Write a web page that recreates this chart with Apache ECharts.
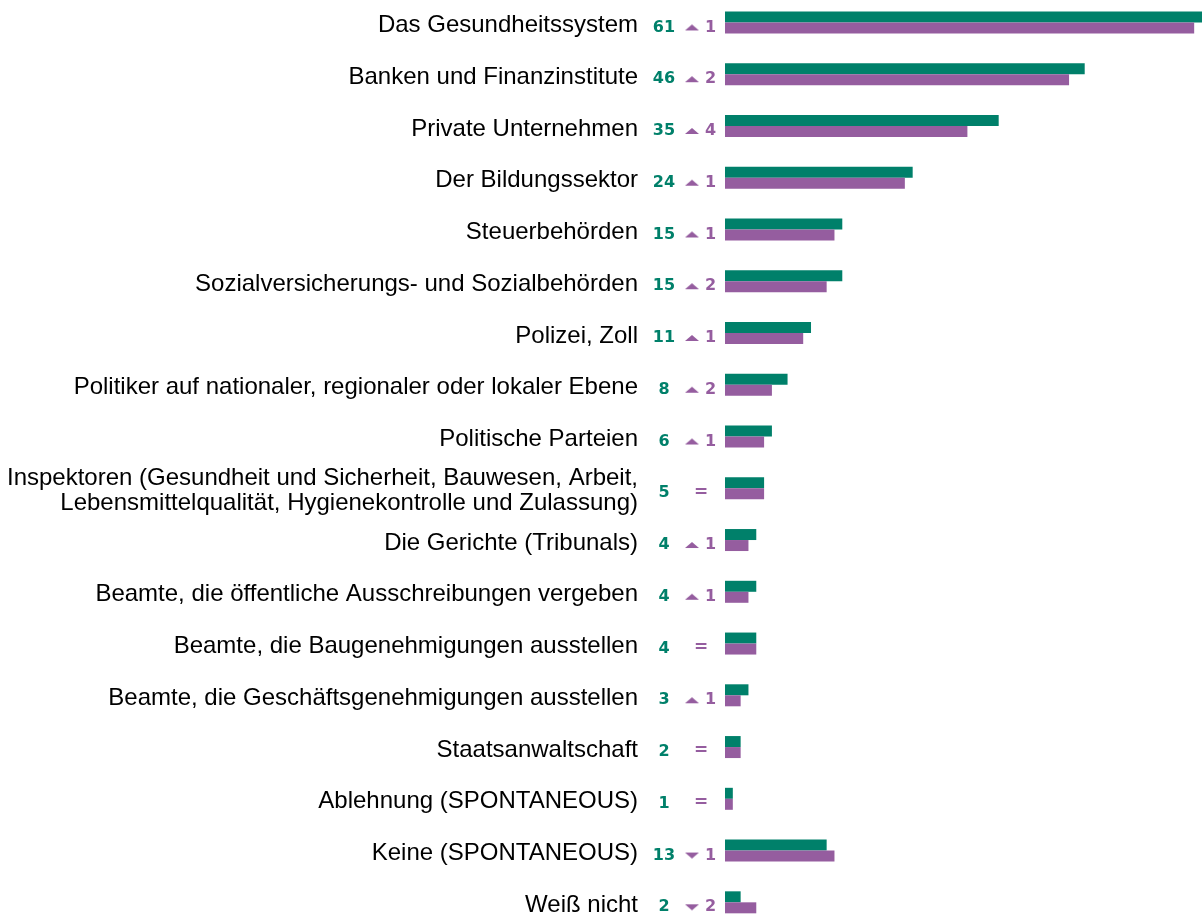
<!DOCTYPE html>
<html>
<head>
<meta charset="utf-8">
<script src="https://cdn.jsdelivr.net/npm/echarts@6/dist/echarts.min.js"></script>
<style>
  html, body { margin: 0; padding: 0; background: #fff; }
  #chart { width: 1202px; height: 918px; }
</style>
</head>
<body>
<div id="chart"></div>
<script>
// Categories, top to bottom
const categories = [
  'Das Gesundheitssystem',
  'Banken und Finanzinstitute',
  'Private Unternehmen',
  'Der Bildungssektor',
  'Steuerbehörden',
  'Sozialversicherungs- und Sozialbehörden',
  'Polizei, Zoll',
  'Politiker auf nationaler, regionaler oder lokaler Ebene',
  'Politische Parteien',
  'Inspektoren (Gesundheit und Sicherheit, Bauwesen, Arbeit,\nLebensmittelqualität, Hygienekontrolle und Zulassung)',
  'Die Gerichte (Tribunals)',
  'Beamte, die öffentliche Ausschreibungen vergeben',
  'Beamte, die Baugenehmigungen ausstellen',
  'Beamte, die Geschäftsgenehmigungen ausstellen',
  'Staatsanwaltschaft',
  'Ablehnung (SPONTANEOUS)',
  'Keine (SPONTANEOUS)',
  'Weiß nicht'
];

// Current wave (%)
const currentValues = [61, 46, 35, 24, 15, 15, 11, 8, 6, 5, 4, 4, 4, 3, 2, 1, 13, 2];
// Previous wave (%)
const previousValues = [60, 44, 31, 23, 14, 13, 10, 6, 5, 5, 3, 3, 4, 2, 2, 1, 14, 4];

const GREEN = '#00806a';
const PURPLE = '#955d9f';
const LABEL_FONT = '"DejaVu Sans", Verdana, sans-serif';

const changes = currentValues.map((v, i) => v - previousValues[i]);

// Flat triangle icons for the change indicator
function triangleIcon(up) {
  const w = 14, h = 6;
  const c = document.createElement('canvas');
  c.width = w; c.height = h;
  const ctx = c.getContext('2d');
  ctx.fillStyle = PURPLE;
  ctx.beginPath();
  if (up) {
    ctx.moveTo(w / 2, 0); ctx.lineTo(w, h); ctx.lineTo(0, h);
  } else {
    ctx.moveTo(0, 0); ctx.lineTo(w, 0); ctx.lineTo(w / 2, h);
  }
  ctx.closePath();
  ctx.fill();
  return c;
}
const upIcon = triangleIcon(true);
const downIcon = triangleIcon(false);

const chart = echarts.init(document.getElementById('chart'));

const baseCatAxis = {
  type: 'category',
  data: categories,
  inverse: true,
  position: 'left',
  axisLine: { show: false },
  axisTick: { show: false },
  splitLine: { show: false }
};

chart.setOption({
  animation: false,
  grid: {
    left: 725, right: 0, top: -3.4, bottom: -10.2,
    containLabel: false,
    outerBoundsMode: 'none'
  },
  xAxis: {
    type: 'value',
    min: 0,
    max: 61,
    show: false
  },
  yAxis: [
    Object.assign({}, baseCatAxis, {
      axisLabel: {
        interval: 0,
        margin: 87,
        align: 'right',
        padding: [6, 0, 0, 0],
        formatter: (v) => v.split('\n').map(s => '{n|' + s + '}').join('\n'),
        rich: {
          n: {
            color: '#000',
            fontFamily: '"Liberation Sans", Arial, sans-serif',
            fontSize: 24,
            lineHeight: 25,
            align: 'right'
          }
        }
      }
    }),
    Object.assign({}, baseCatAxis, {
      axisLabel: {
        interval: 0,
        margin: 61,
        align: 'center',
        padding: [10, 0, 0, 0],
        formatter: (v, i) => '{v|' + currentValues[i] + '}',
        rich: {
          v: { color: GREEN, fontFamily: LABEL_FONT, fontWeight: 'bold', fontSize: 16 }
        }
      }
    }),
    Object.assign({}, baseCatAxis, {
      axisLabel: {
        interval: 0,
        margin: 33,
        align: 'center',
        padding: [10, 0, 0, 0],
        formatter: (v, i) => {
          const c = changes[i];
          if (c > 0) return '{up| }';
          if (c < 0) return '{down| }';
          return '{eq|=}';
        },
        rich: {
          up: { width: 14, height: 6, backgroundColor: { image: upIcon } },
          down: { width: 14, height: 6, backgroundColor: { image: downIcon } },
          eq: { color: PURPLE, fontSize: 17, fontWeight: 'bold', fontFamily: LABEL_FONT, padding: [0, 0, 2, 18] }
        }
      }
    }),
    Object.assign({}, baseCatAxis, {
      axisLabel: {
        interval: 0,
        margin: 20,
        align: 'left',
        padding: [10, 0, 0, 0],
        formatter: (v, i) => changes[i] === 0 ? '' : '{c|' + Math.abs(changes[i]) + '}',
        rich: {
          c: { color: PURPLE, fontFamily: LABEL_FONT, fontWeight: 'bold', fontSize: 16 }
        }
      }
    })
  ],
  series: [
    {
      name: 'current',
      type: 'bar',
      yAxisIndex: 0,
      data: currentValues,
      barWidth: 11,
      barGap: '0%',
      itemStyle: { color: GREEN },
      silent: true
    },
    {
      name: 'previous',
      type: 'bar',
      yAxisIndex: 0,
      data: previousValues,
      barWidth: 11,
      barGap: '0%',
      itemStyle: { color: PURPLE },
      silent: true
    }
  ]
});
</script>
</body>
</html>
